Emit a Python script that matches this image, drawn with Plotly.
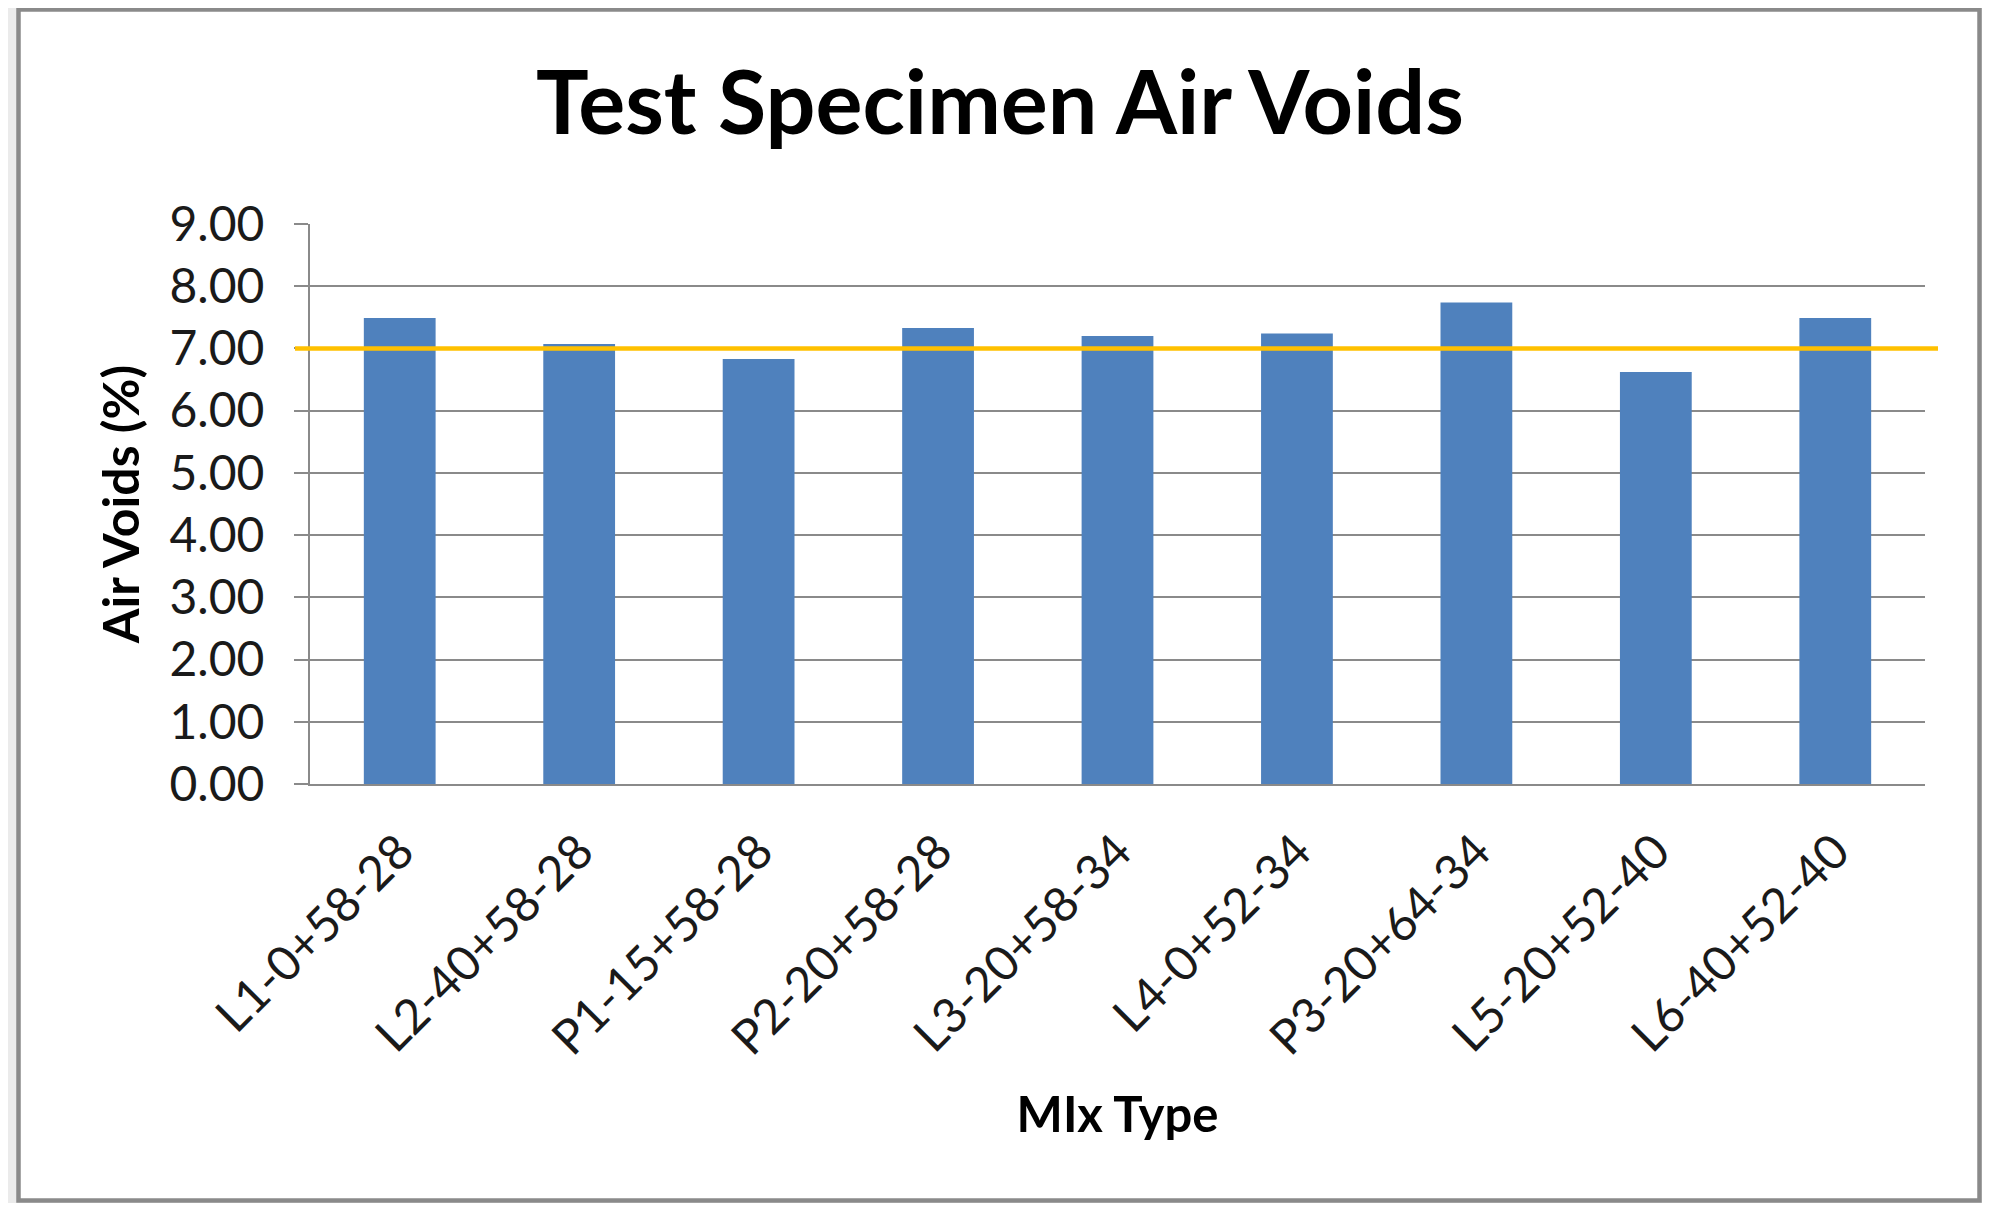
import plotly.graph_objects as go

categories = ["L1-0+58-28", "L2-40+58-28", "P1-15+58-28", "P2-20+58-28", "L3-20+58-34",
              "L4-0+52-34", "P3-20+64-34", "L5-20+52-40", "L6-40+52-40"]
air_voids = [7.49, 7.07, 6.83, 7.33, 7.20, 7.24, 7.74, 6.62, 7.49]
target_value = 7.0
y_ticks = [0, 1, 2, 3, 4, 5, 6, 7, 8, 9]

# page body has an 8px margin, so the figure is a little smaller than the window
W, H = 1974, 1195
L, R, T, B = 302, 57, 216, 419
PW, PH = W - L - R, H - T - B

def px_x(px):
    return (px - L) / PW

def px_y(py):
    return (H - B - py) / PH

FONT = "Lato"

fig = go.Figure()
fig.add_trace(go.Bar(x=categories, y=air_voids, marker=dict(color="#4F81BD", line=dict(width=0)),
                     showlegend=False))

# card frame
fig.add_shape(type="rect", xref="paper", yref="paper",
              x0=px_x(10.5), x1=px_x(1971.5), y0=px_y(1192.5), y1=px_y(1.5),
              line=dict(color="#8a8a8a", width=4.5), fillcolor="white", layer="below")
# target line
fig.add_shape(type="line", xref="paper", yref="y", x0=px_x(287), x1=px_x(1930),
              y0=target_value, y1=target_value, line=dict(color="#FFC000", width=4.5))

fig.update_layout(
    width=W, height=H,
    margin=dict(l=L, r=R, t=T, b=B, autoexpand=False),
    paper_bgcolor="#ebebeb", plot_bgcolor="rgba(0,0,0,0)",
    bargap=0.6,
    font=dict(family=FONT, color="#1a1a1a"),
    title=dict(text="<b>Test Specimen Air Voids</b>", x=992 / W, xanchor="center",
               y=1 - 95 / H, yanchor="middle", yref="container",
               font=dict(family=FONT, size=88, color="#000000")),
    xaxis=dict(tickangle=-45, tickfont=dict(size=48, family=FONT, color="#1a1a1a"),
               showline=True, linecolor="#8a8a8a", linewidth=2, ticks="",
               title=dict(text="<b>MIx Type</b>", font=dict(size=49, family=FONT, color="#000"), standoff=34),
               ticklabelstandoff=18),
    yaxis=dict(range=[0, 9], tickvals=y_ticks, tickformat=".2f",
               tickfont=dict(size=48, family=FONT, color="#1a1a1a"),
               showgrid=True, gridcolor="#8a8a8a", gridwidth=2,
               showline=True, linecolor="#8a8a8a", linewidth=2,
               ticks="outside", ticklen=14, tickcolor="#8a8a8a", tickwidth=2,
               zeroline=False,
               title=dict(text="<b>Air Voids (%)</b>", font=dict(size=50, family=FONT, color="#000"), standoff=14),
               ticklabelstandoff=20),
)

fig.write_html("out.html")
